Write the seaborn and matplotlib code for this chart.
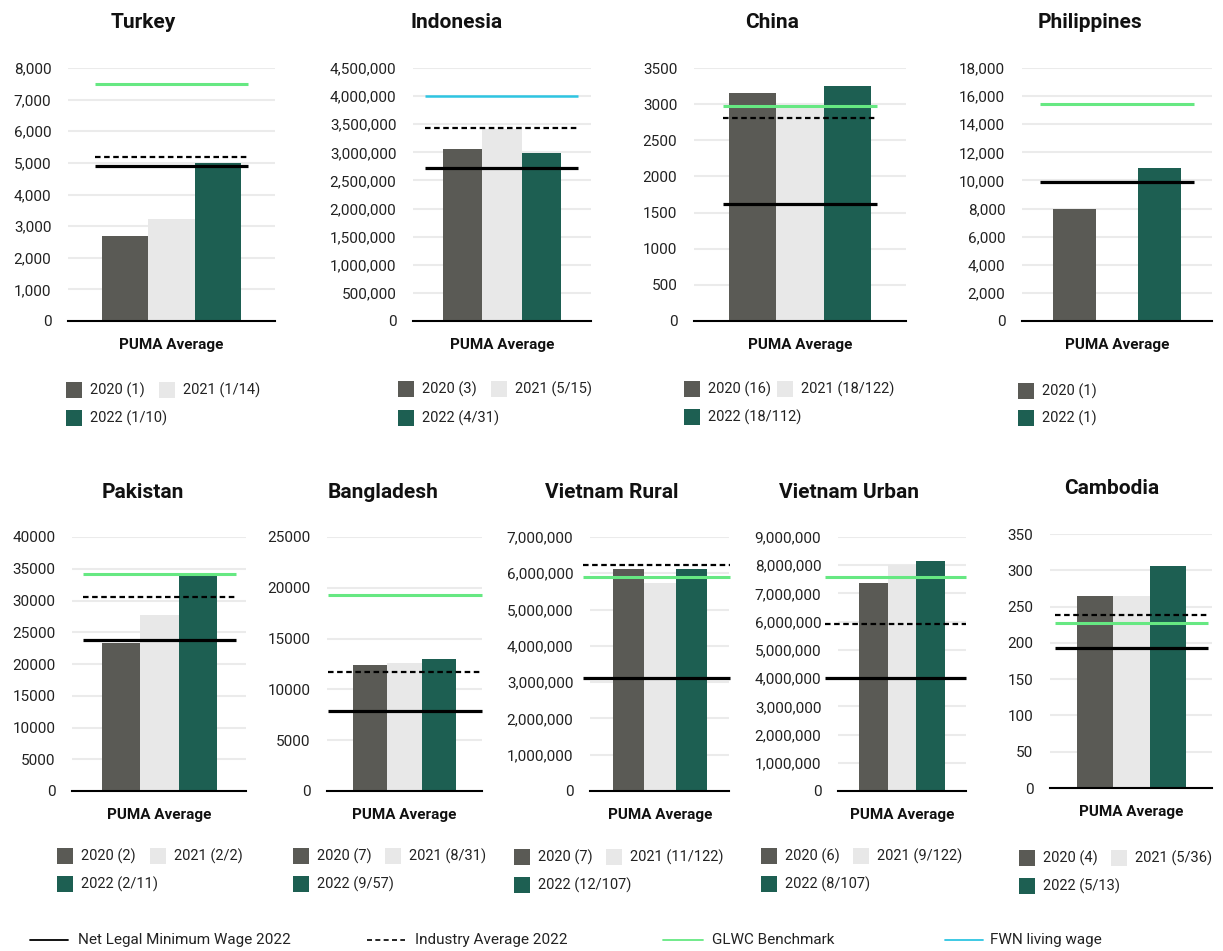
import numpy as np
import pandas as pd
import matplotlib
matplotlib.use("Agg")
import matplotlib.pyplot as plt
import seaborn as sns
from matplotlib.patches import Rectangle
from matplotlib.lines import Line2D
from matplotlib.ticker import FuncFormatter, MultipleLocator

# ---------------- data ----------------
countries = ["Turkey", "Indonesia", "China", "Philippines", "Pakistan",
             "Bangladesh", "Vietnam Rural", "Vietnam Urban", "Cambodia"]
years = ["2020", "2021", "2022"]
wage_2020 = [2690, 3060000, 3150, 7970, 23350, 12370, 6110000, 7360000, 265]
wage_2021 = [3230, 3410000, 2990, None, 27670, 12570, 5720000, 8000000, 265]
wage_2022 = [4990, 2980000, 3247, 10860, 33810, 12960, 6110000, 8150000, 306]
min_wage_2022 = [4900, 2720000, 1614, 9910, 23780, 7874, 3105000, 4010000, 192.5]
industry_avg_2022 = [5180, 3440000, 2804, None, 30550, 11745, 6230000, 5920000, 238.5]
glwc_benchmark = [7490, None, 2978, 15420, 34130, 19260, 5910000, 7570000, 227]
fwn_living_wage = [None, 4010000, None, None, None, None, None, None, None]
labels_2020 = ["2020 (1)", "2020 (3)", "2020 (16)", "2020 (1)", "2020 (2)",
               "2020 (7)", "2020 (7)", "2020 (6)", "2020 (4)"]
labels_2021 = ["2021 (1/14)", "2021 (5/15)", "2021 (18/122)", None, "2021 (2/2)",
               "2021 (8/31)", "2021 (11/122)", "2021 (9/122)", "2021 (5/36)"]
labels_2022 = ["2022 (1/10)", "2022 (4/31)", "2022 (18/112)", "2022 (1)", "2022 (2/11)",
               "2022 (9/57)", "2022 (12/107)", "2022 (8/107)", "2022 (5/13)"]
y_max = [8000, 4500000, 3500, 18000, 40000, 25000, 7000000, 9000000, 350]
y_step = [1000, 500000, 500, 2000, 5000, 5000, 1000000, 1000000, 50]
use_commas = [True, True, False, True, False, False, True, True, False]
category = "PUMA Average"
legend_lines = ["Net Legal Minimum Wage 2022", "Industry Average 2022",
                "GLWC Benchmark", "FWN living wage"]

# ---------------- style ----------------
sns.set_theme(style="white")
plt.rcParams["font.family"] = ["Roboto", "DejaVu Sans"]

C2020, C2021, C2022 = "#5a5a55", "#e8e8e8", "#1d5f52"
CGLWC, CFWN = "#66e882", "#2ec5e2"
palette = dict(zip(years, [C2020, C2021, C2022]))

W, H = 1223, 951
fig = plt.figure(figsize=(W / 100, H / 100), dpi=100)
fig.patch.set_facecolor("white")

def fx(x):
    return x / W

def fy(y):
    return 1 - y / H

# layout in pixels: axes L, top, R, bottom, bars b0, b1, lines l0, l1,
# title x, title y, legend col x1, col x2, legend row y1, y2
layout = [
    (68, 68, 275, 321, 102, 241, 95, 248, 143, 22, 66, 159, 390, 418),
    (413, 68, 591, 321, 443, 561, 425, 578, 457, 22, 398, 491, 389, 418),
    (694, 68, 906, 321, 729, 871, 723, 877, 772, 22, 684, 777, 389, 417),
    (1022, 68, 1212, 321, 1053, 1181, 1040, 1194, 1090, 22, 1018, None, 391, 418),
    (72, 537, 246, 791, 102, 217, 83, 236, 143, 492, 57, 150, 856, 884),
    (327, 537, 482, 791, 353, 456, 328, 482, 383, 492, 293, 385, 856, 884),
    (590, 537, 729, 791, 613, 707, 583, 730, 612, 492, 514, 606, 857, 885),
    (838, 537, 966, 791, 859, 945, 825, 966, 849, 492, 761, 853, 856, 884),
    (1050, 534, 1212, 788, 1077, 1186, 1055, 1208, 1112, 488, 1019, 1111, 858, 886),
]

for i, name in enumerate(countries):
    (L, T, R, B, b0, b1, l0, l1, tx, ty, lx1, lx2, ly1, ly2) = layout[i]
    ax = fig.add_axes([fx(L), fy(B), (R - L) / W, (B - T) / H])
    vals = [wage_2020[i], wage_2021[i], wage_2022[i]]
    rows = [(category, yr, v) for yr, v in zip(years, vals) if v is not None]
    df = pd.DataFrame(rows, columns=["group", "year", "value"])
    sns.barplot(data=df, x="group", y="value", hue="year", hue_order=years,
                palette=palette, saturation=1, errorbar=None, linewidth=0,
                legend=False, ax=ax, zorder=2)
    c = (b0 + b1) / 2
    s = (b1 - b0) / 0.8
    ax.set_xlim((L - c) / s, (R - c) / s)
    ax.set_ylim(0, y_max[i])
    ax.yaxis.set_major_locator(MultipleLocator(y_step[i]))
    if use_commas[i]:
        ax.yaxis.set_major_formatter(FuncFormatter(lambda v, p: f"{int(round(v)):,}"))
    else:
        ax.yaxis.set_major_formatter(FuncFormatter(lambda v, p: f"{int(round(v))}"))
    ax.set_axisbelow(True)
    ax.yaxis.grid(True, color="#ebebeb", lw=1.5)
    ax.xaxis.grid(False)
    for sp in ["left", "right", "top"]:
        ax.spines[sp].set_visible(False)
    ax.spines["bottom"].set_color("black")
    ax.spines["bottom"].set_linewidth(1.5)
    ax.spines["bottom"].set_zorder(5)
    ax.tick_params(axis="y", length=0, pad=12, labelsize=11, labelcolor="#222222")
    ax.tick_params(axis="x", length=0, pad=12.5, labelsize=11)
    for lab in ax.get_xticklabels():
        lab.set_fontweight("bold")
        lab.set_color("#111111")
    ax.set_xlabel("")
    ax.set_ylabel("")
    x0d, x1d = (l0 - c) / s, (l1 - c) / s
    if glwc_benchmark[i] is not None:
        ax.hlines(glwc_benchmark[i], x0d, x1d, color=CGLWC, lw=2.2, zorder=4, clip_on=False)
    if fwn_living_wage[i] is not None:
        ax.hlines(fwn_living_wage[i], x0d, x1d, color=CFWN, lw=1.8, zorder=4, clip_on=False)
    if industry_avg_2022[i] is not None:
        ax.plot([x0d, x1d], [industry_avg_2022[i]] * 2, color="black", lw=1.6,
                dashes=(2.5, 1.6), zorder=5, clip_on=False)
    ax.hlines(min_wage_2022[i], x0d, x1d, color="black", lw=2.3, zorder=6, clip_on=False)

    fig.text(fx(tx), fy(ty), name, ha="center", va="center", fontsize=15,
             fontweight="bold", color="#111111")

    # legend (per panel)
    if labels_2021[i] is not None:
        items = [(lx1, ly1, C2020, labels_2020[i]), (lx2, ly1, C2021, labels_2021[i]),
                 (lx1, ly2, C2022, labels_2022[i])]
    else:
        items = [(lx1, ly1, C2020, labels_2020[i]), (lx1, ly2, C2022, labels_2022[i])]
    for (px, py, col, txt) in items:
        fig.add_artist(Rectangle((fx(px), fy(py + 8)), 16 / W, 16 / H,
                                 transform=fig.transFigure, facecolor=col, edgecolor="none"))
        fig.text(fx(px + 24), fy(py), txt, ha="left", va="center", fontsize=10.5,
                 color="#222222")

# bottom legend
ly = 940
specs = [
    (30, 68, 78, dict(color="black", lw=1.3)),
    (367, 405, 415, dict(color="black", lw=1.2, dashes=(3, 2))),
    (663, 703, 712, dict(color=CGLWC, lw=1.3)),
    (945, 983, 990, dict(color=CFWN, lw=1.3)),
]
for (x0, x1, xt, kw), txt in zip(specs, legend_lines):
    fig.add_artist(Line2D([fx(x0), fx(x1)], [fy(ly), fy(ly)], transform=fig.transFigure, **kw))
    fig.text(fx(xt), fy(ly), txt, ha="left", va="center", fontsize=11, color="#222222")

fig.savefig("out.png", dpi=100)
